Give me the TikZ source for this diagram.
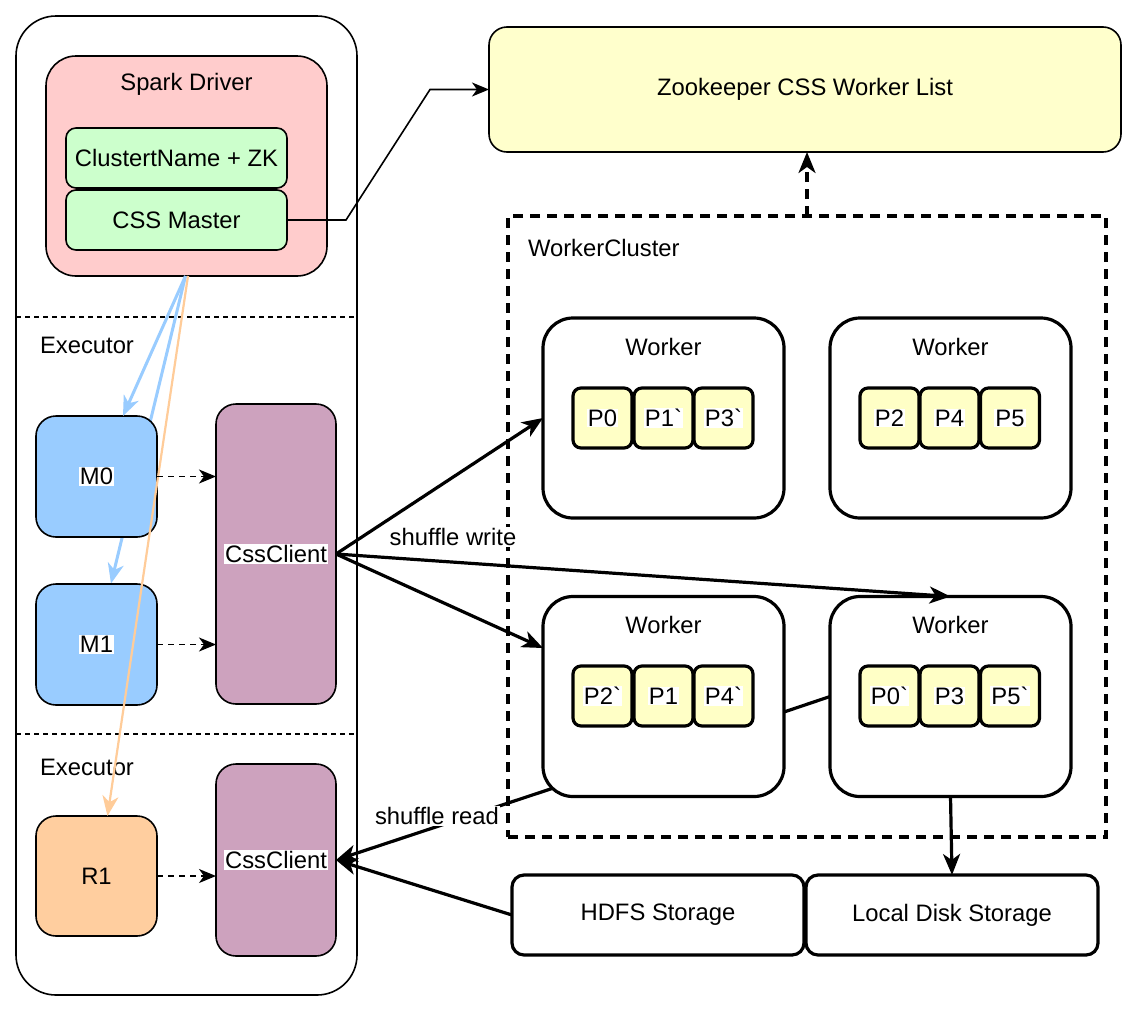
\documentclass[tikz,border=0pt]{standalone}
\usepackage{fontspec}
\setmainfont{Liberation Sans}
\newfontfamily\plainf[Ligatures=TeXOff]{Liberation Sans}
\usetikzlibrary{arrows.meta,calc}
\definecolor{pinkc}{HTML}{FFCCCC}
\definecolor{greenc}{HTML}{CCFFCC}
\definecolor{bluec}{HTML}{99CCFF}
\definecolor{purplec}{HTML}{CDA2BE}
\definecolor{orangec}{HTML}{FFCE9F}
\definecolor{orangeline}{HTML}{FFCC99}
\definecolor{yellowc}{HTML}{FFFFCC}
\definecolor{partc}{HTML}{FFFFC6}
\newcommand\dfs{\fontsize{23.8}{28}\selectfont}
\newcommand\wbg[1]{{\setlength{\fboxsep}{1pt}\colorbox{white}{#1}}}
\newcommand\bq{{\plainf\symbol{96}}}
\begin{document}
\begin{tikzpicture}[x=1pt,y=-1pt,
  every node/.style={font=\dfs, inner sep=0pt, outer sep=0pt},
  thinbox/.style={draw, line width=1.6pt},
  thickbox/.style={draw, line width=3.2pt},
  lbl/.style={text=black},
  seprule/.style={line width=1.4pt, dash pattern=on 5pt off 4pt},
  thinarrow/.style={line width=1.6pt, -{Stealth[length=17pt,width=14pt,inset=5pt]}},
  dasharrow/.style={line width=1.6pt, dash pattern=on 6pt off 5pt, -{Stealth[length=17pt,width=14pt,inset=5pt]}},
  thickarrow/.style={line width=3.2pt, -{Stealth[length=21pt,width=17pt,inset=6pt]}},
  thickdasharrow/.style={line width=3.2pt, dash pattern=on 10pt off 7pt, -{Stealth[length=21pt,width=17pt,inset=6pt]}},
  bluearrow/.style={bluec, line width=3pt, -{Stealth[length=20pt,width=16pt,inset=6pt]}},
  orangearrow/.style={orangeline, line width=2.2pt, -{Stealth[length=20pt,width=16pt,inset=6pt]}},
  part/.style={thickbox, fill=partc, rounded corners=8pt, minimum width=59pt, minimum height=60pt},
  worker/.style={thickbox, fill=white, rounded corners=30pt, minimum width=241pt, minimum height=200pt},
  storage/.style={thickbox, fill=white, rounded corners=12pt, minimum width=292pt, minimum height=80pt}
]
\useasboundingbox (0,0) rectangle (1139,1012);
\fill[white] (0,0) rectangle (1139,1012);

% left container
\node[thinbox, rounded corners=40pt, minimum width=341pt, minimum height=979pt] (outer) at (186.5,505.5) {};
\draw[seprule] (outer.west |- {(0,317)}) -- (outer.east |- {(0,317)});
\draw[seprule] (outer.west |- {(0,734)}) -- (outer.east |- {(0,734)});
\node[lbl, anchor=west] (ex1) at (40,345) {Executor};
\node[lbl, anchor=west] (ex2) at (40,767) {Executor};

% spark driver
\node[thinbox, fill=pinkc, rounded corners=30pt, minimum width=281pt, minimum height=220pt] (sd) at (186.5,166) {};
\node[lbl] (sdl) at (186.5,84) {Spark Driver};
\node[thinbox, fill=greenc, rounded corners=10pt, minimum width=221pt, minimum height=60pt] (cn) at (176.5,158) {ClustertName + ZK};
\node[thinbox, fill=greenc, rounded corners=10pt, minimum width=221pt, minimum height=60pt] (cssm) at (176.5,220) {CSS Master};

% blue line behind M0
\draw[bluearrow] ([xshift=-1pt]sd.south) -- (111,583.5) coordinate (m1tip);

% executor boxes
\node[thinbox, fill=bluec, rounded corners=20pt, minimum width=121pt, minimum height=121pt] (m0) at (96.5,476.5) {\wbg{M0}};
\node[thinbox, fill=bluec, rounded corners=20pt, minimum width=121pt, minimum height=121pt] (m1) at (96.5,644.5) {\wbg{M1}};
\node[thinbox, fill=purplec, rounded corners=20pt, minimum width=120pt, minimum height=300pt] (cc1) at (276,554) {\wbg{CssClient}};
\node[thinbox, fill=orangec, rounded corners=20pt, minimum width=121pt, minimum height=120pt] (r1) at (96.5,876) {R1};
\node[thinbox, fill=purplec, rounded corners=20pt, minimum width=120pt, minimum height=192pt] (cc2) at (276,860) {\wbg{CssClient}};

\draw[bluearrow] ([xshift=-1pt]sd.south) -- ([xshift=26.5pt]m0.north);
\draw[orangearrow] ([xshift=1.5pt]sd.south) -- ([xshift=11pt]r1.north);

\draw[dasharrow] (m0.east) -- (m0.east -| cc1.west);
\draw[dasharrow] (m1.east) -- (m1.east -| cc1.west);
\draw[dasharrow] (r1.east) -- (r1.east -| cc2.west);

% zookeeper
\node[thinbox, fill=yellowc, rounded corners=18pt, minimum width=632pt, minimum height=125pt] (zk) at (805,89.5) {Zookeeper CSS Worker List};
\coordinate (b1) at (346,220);
\coordinate (b2) at (430,89.5);
\draw[thinarrow] (cssm.east) -- (b1) -- (b2) -- (zk.west);

% worker cluster
\node[draw, line width=3.2pt, dash pattern=on 10pt off 7pt, minimum width=598pt, minimum height=621pt] (wc) at (807,526.5) {};
\node[lbl, anchor=west] (wcl) at (528,248) {WorkerCluster};
\draw[thickdasharrow] (wc.north) -- (wc.north |- zk.south);

% workers
\node[worker] (w1) at (663.5,418) {};
\node[worker] (w2) at (950.5,418) {};
\node[worker] (w3) at (663.5,696.5) {};
\node[worker] (w4) at (950.5,696.5) {};
\node[lbl] (w1l) at (663.5,347) {Worker};
\node[lbl] (w2l) at (950.5,347) {Worker};
\node[lbl] (w3l) at (663.5,625) {Worker};
\node[lbl] (w4l) at (950.5,625) {Worker};

% partitions
\node[part] (p10) at (602.5,418) {\wbg{P0}};
\node[part] (p11) at (663.5,418) {\wbg{P1\bq}};
\node[part] (p12) at (723.5,418) {\wbg{P3\bq}};
\node[part] (p20) at (889.5,418) {\wbg{P2}};
\node[part] (p21) at (949.5,418) {\wbg{P4}};
\node[part] (p22) at (1010,418) {\wbg{P5}};
\node[part] (p30) at (602.5,696) {\wbg{P2\bq}};
\node[part] (p31) at (663.5,696) {\wbg{P1}};
\node[part] (p32) at (723.5,696) {\wbg{P4\bq}};
\node[part] (p40) at (889.5,696) {\wbg{P0\bq}};
\node[part] (p41) at (949.5,696) {\wbg{P3}};
\node[part] (p42) at (1010,696) {\wbg{P5\bq}};

% storage
\node[storage] (hdfs) at (658,915) {HDFS Storage};
\node[storage] (local) at (952,915) {Local Disk Storage};

% shuffle write
\draw[thickarrow] (cc1.east) -- (w1.west);
\draw[thickarrow] (cc1.east) -- (w4.north);
\draw[thickarrow] (cc1.east) -- ([yshift=48.5pt]w3.west);
\node[lbl, fill=white, inner sep=1pt] (swl) at (453,537) {shuffle write};

% worker link
\draw[line width=3.2pt] (w4.west) -- ([yshift=-15.5pt]w3.east);

% shuffle read
\draw[thickarrow] ([xshift=9pt,yshift=8pt]w3.south west) -- (cc2.east);
\draw[thickarrow] (hdfs.west) -- (cc2.east);
\node[lbl, fill=white, inner sep=1pt] (srl) at (437,816) {shuffle read};

% local disk
\draw[thickarrow] (w4.south) -- (local.north);
\end{tikzpicture}
\end{document}
